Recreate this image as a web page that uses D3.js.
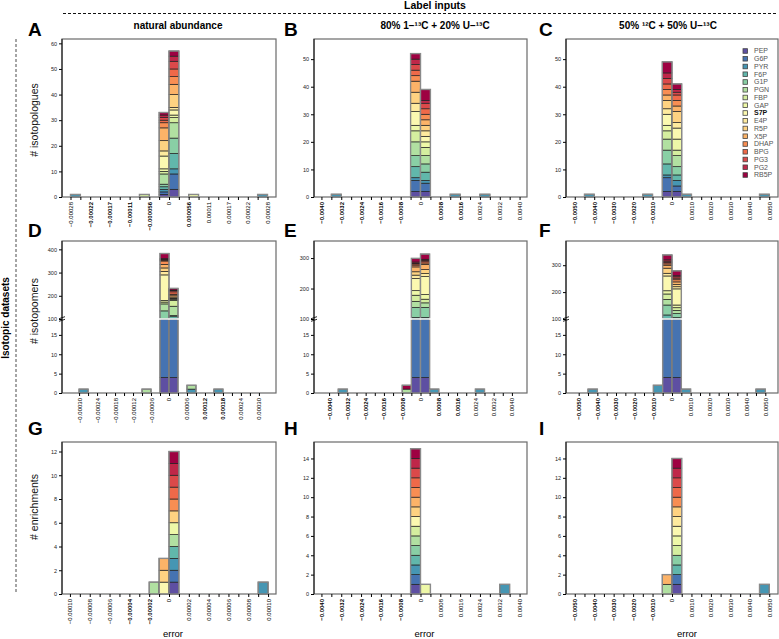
<!DOCTYPE html>
<html><head><meta charset="utf-8">
<script src="https://cdn.jsdelivr.net/npm/d3@7"></script>
<style>body{margin:0;background:#fff} svg text{font-family:"Liberation Sans",Arial,sans-serif}</style>
</head><body><svg id="c" width="779" height="639"></svg>
<script>
// ---------------- DATA ----------------
const metabolites = ["PEP","G6P","PYR","F6P","G1P","PGN","FBP","GAP","S7P","E4P","R5P","X5P","DHAP","BPG","PG3","PG2","RB5P"];
const columnTitles = ["natural abundance","80% 1−¹³C + 20% U−¹³C","50% ¹²C + 50% U−¹³C"];
const rowTitles = ["# isotopologues","# isotopomers","# enrichments"];
const panelLetters = ["A","B","C","D","E","F","G","H","I"];

const ticksA = ["−0.00028","−0.00022","−0.00017","−0.00011","−0.000056","0","0.000056","0.00011","0.00017","0.00022","0.00028"];
const ticks8 = ["−0.0040","−0.0032","−0.0024","−0.0016","−0.0008","0","0.0008","0.0016","0.0024","0.0032","0.0040"];
const ticks10 = ["−0.0050","−0.0040","−0.0030","−0.0020","−0.0010","0","0.0010","0.0020","0.0030","0.0040","0.0050"];
const ticksD = ["−0.00030","−0.00024","−0.00018","−0.00012","−0.00006","0","0.00006","0.00012","0.00018","0.00024","0.00030"];
const ticksG = ["−0.00010","−0.00008","−0.00006","−0.00004","−0.00002","0","0.00002","0.00004","0.00006","0.00008","0.00010"];

const binWidth   = {A:2.78e-5, B:4e-4, C:5e-4, D:3e-5, E:4e-4, F:5e-4, G:1e-5, H:4e-4, I:5e-4};
const xHalfRange = {A:3.02e-4, B:4.3e-3, C:5.45e-3, D:3.57e-4, E:4.66e-3, F:5.68e-3, G:1.08e-4, H:4.3e-3, I:5.45e-3};
const yMax = {A:61.7, B:57.3, C:57.3, G:12.8, H:15.7, I:15.7};
const yLowMax = 19.1;
const yUpperMax = {D:436, E:356, F:390};
const yTicks = {A:[0,10,20,30,40,50,60], B:[0,10,20,30,40,50], C:[0,10,20,30,40,50],
  G:[0,2,4,6,8,10,12], H:[0,2,4,6,8,10,12,14], I:[0,2,4,6,8,10,12,14]};
const yTicksLow = [0,5,10,15];
const yTicksUp = {D:[100,200,300,400], E:[100,200,300], F:[100,200,300]};

const barsA = [
 {bin:-10, n:{PYR:1}},
 {bin:-3, n:{FBP:1}},
 {bin:-1, n:{PEP:1,G6P:1,PYR:1,F6P:1,G1P:1,PGN:4,FBP:1,GAP:1,S7P:5,E4P:2,R5P:4,X5P:5,DHAP:2,BPG:1,PG3:1,PG2:1,RB5P:1}},
 {bin:0, n:{PEP:3,G6P:6,PYR:2,F6P:6,G1P:6,PGN:6,FBP:2,GAP:1,S7P:2,E4P:1,R5P:5,X5P:4,DHAP:3,BPG:3,PG3:3,PG2:2,RB5P:2}},
 {bin:2, n:{GAP:1}},
 {bin:9, n:{PYR:1}}
];
const barsB = [
 {bin:-9, n:{PYR:1}},
 {bin:-1, n:{PEP:2,G6P:4,PYR:1,F6P:4,G1P:4,PGN:5,FBP:4,GAP:2,S7P:5,E4P:3,R5P:4,X5P:4,DHAP:2,BPG:2,PG3:2,PG2:2,RB5P:2}},
 {bin:0, n:{PEP:2,G6P:3,PYR:1,F6P:3,G1P:3,PGN:3,FBP:3,GAP:2,S7P:2,E4P:2,R5P:2,X5P:2,DHAP:2,BPG:2,PG3:2,PG2:1,RB5P:4}},
 {bin:3, n:{PYR:1}},
 {bin:6, n:{PYR:1}}
];
const barsC = [
 {bin:-9, n:{PYR:1}},
 {bin:-3, n:{PYR:1}},
 {bin:-1, n:{PEP:2,G6P:5,PYR:1,F6P:4,G1P:5,PGN:4,FBP:3,GAP:2,S7P:4,E4P:2,R5P:3,X5P:2,DHAP:2,BPG:2,PG3:2,PG2:2,RB5P:4}},
 {bin:0, n:{PEP:2,G6P:2,PYR:2,F6P:2,G1P:3,PGN:4,FBP:2,GAP:4,S7P:4,E4P:2,R5P:4,X5P:2,DHAP:2,BPG:2,PG3:1,PG2:1,RB5P:2}},
 {bin:1, n:{PYR:1}},
 {bin:9, n:{PYR:1}}
];
const barsD = [
 {bin:-10, n:{PYR:1}},
 {bin:-3, n:{PGN:1}},
 {bin:-1, n:{PEP:4,G6P:96,G1P:35,PGN:30,FBP:8,GAP:7,S7P:110,E4P:15,R5P:15,X5P:15,DHAP:15,BPG:4,PG3:3,PG2:3,RB5P:22}},
 {bin:0, n:{PEP:4,G6P:96,F6P:10,G1P:5,PGN:40,FBP:25,GAP:4,S7P:3,E4P:3,R5P:5,X5P:8,DHAP:4,BPG:10,PG3:5,PG2:3,RB5P:7}},
 {bin:2, n:{PYR:1,PGN:1}},
 {bin:5, n:{PYR:1}}
];
const barsE = [
 {bin:-9, n:{PYR:1}},
 {bin:-2, n:{PGN:1,RB5P:1}},
 {bin:-1, n:{PEP:4,G6P:96,F6P:5,G1P:33,PGN:20,FBP:20,GAP:15,S7P:40,E4P:11,R5P:11,X5P:16,DHAP:6,BPG:4,PG3:2,PG2:4,RB5P:12}},
 {bin:0, n:{PEP:4,G6P:96,F6P:5,G1P:33,PGN:15,FBP:12,GAP:15,S7P:59,E4P:10,R5P:13,X5P:17,DHAP:5,BPG:6,PG3:3,PG2:3,RB5P:17}},
 {bin:1, n:{PYR:1}},
 {bin:6, n:{PYR:1}}
];
const barsF = [
 {bin:-9, n:{PYR:1}},
 {bin:-2, n:{PYR:2}},
 {bin:-1, n:{PEP:4,G6P:96,F6P:15,G1P:37,PGN:21,FBP:20,GAP:12,S7P:55,E4P:10,R5P:19,X5P:11,DHAP:5,BPG:5,PG3:5,PG2:5,RB5P:18}},
 {bin:0, n:{PEP:4,G6P:96,F6P:5,G1P:15,PGN:12,FBP:10,GAP:10,S7P:60,E4P:8,R5P:8,X5P:10,DHAP:8,BPG:6,PG3:5,PG2:4,RB5P:18}},
 {bin:1, n:{PYR:1}},
 {bin:9, n:{PYR:1}}
];
const barsG = [
 {bin:-2, n:{PGN:1}},
 {bin:-1, n:{S7P:1,R5P:1,X5P:1}},
 {bin:0, n:{PEP:1,G6P:1,PYR:1,F6P:1,PGN:1,GAP:1,R5P:1,DHAP:1,BPG:1,PG3:1,PG2:1,RB5P:1}},
 {bin:9, n:{PYR:1}}
];
const barsH = [
 {bin:-1, n:{PEP:1,G6P:1,PYR:1,F6P:1,G1P:1,PGN:1,FBP:1,S7P:1,R5P:1,X5P:1,DHAP:1,BPG:1,PG3:1,PG2:1,RB5P:1}},
 {bin:0, n:{GAP:1}},
 {bin:8, n:{PYR:1}}
];
const barsI = [
 {bin:-1, n:{PGN:1,X5P:1}},
 {bin:0, n:{PEP:1,G6P:1,F6P:1,G1P:1,FBP:1,GAP:1,S7P:1,E4P:1,R5P:1,DHAP:1,BPG:1,PG3:1,PG2:1,RB5P:1}},
 {bin:9, n:{PYR:1}}
];

const panelTicks = {A:ticksA,B:ticks8,C:ticks10,D:ticksD,E:ticks8,F:ticks10,G:ticksG,H:ticks8,I:ticks10};
const panelBars  = {A:barsA,B:barsB,C:barsC,D:barsD,E:barsE,F:barsF,G:barsG,H:barsH,I:barsI};

// ---------------- LAYOUT / STYLE ----------------
const colX = [[62,276],[314,527],[566,778]];
const rowY = [{top:39,bottom:197},{top:241,bottom:393,brk:319},{top:442,bottom:594}];
const boldTicks = {A:[1,2,3,4,6],B:[0,1,2,3,4,6,7],C:[0,1,2,3,4],D:[7,8],E:[0,1,2,3,4,6,7],F:[0,1,2,3,4],G:[3,4],H:[0,1,2,3,4],I:[0,1,2,3,4]};
const letterX = [28,284,539];
const letterY = [36,237,435];
const titleX = [178,435,668];
const yTitleY = [120,311,507];
const errorX = [173,424.5,687];

const svg = d3.select("#c");
const color = d3.scaleOrdinal().domain(metabolites)
  .range(metabolites.map((m,i)=>d3.interpolateSpectral(1 - i/(metabolites.length-1))));

// header
svg.append("text").attr("x",435).attr("y",9).attr("text-anchor","middle")
  .attr("font-size",10.5).attr("font-weight","bold").text("Label inputs");
svg.append("line").attr("x1",63).attr("x2",778).attr("y1",13.5).attr("y2",13.5)
  .attr("stroke","#111").attr("stroke-width",1).attr("stroke-dasharray","3,2");
svg.append("line").attr("x1",16).attr("x2",16).attr("y1",39).attr("y2",594)
  .attr("stroke","#888").attr("stroke-width",1.5).attr("stroke-dasharray","3,2");
svg.append("text").attr("transform","translate(9,318) rotate(-90)").attr("text-anchor","middle")
  .attr("font-size",10).attr("font-weight","bold").text("Isotopic datasets");

columnTitles.forEach((t,i)=>{
  svg.append("text").attr("x",titleX[i]).attr("y",28.5).attr("text-anchor","middle")
    .attr("font-size",10).attr("font-weight","bold").text(t);
});
rowTitles.forEach((t,i)=>{
  svg.append("text").attr("transform",`translate(38,${yTitleY[i]}) rotate(-90)`).attr("text-anchor","middle")
    .attr("font-size",10.5).attr("fill","#111").text(t);
});
errorX.forEach(x=>{
  svg.append("text").attr("x",x).attr("y",637).attr("text-anchor","middle").attr("font-size",9.5).text("error");
});

panelLetters.forEach((id,idx)=>{
  const r = Math.floor(idx/3), c = idx%3;
  const [x0,x1] = colX[c]; const R = rowY[r];
  const g = svg.append("g");
  g.append("text").attr("x",letterX[c]).attr("y",letterY[r]).attr("font-size",19).attr("font-weight","bold").text(id);

  const x = d3.scaleLinear().domain([-xHalfRange[id], xHalfRange[id]]).range([x0,x1]);
  let yv, yAxes;
  if (r === 1) {
    const yLow = d3.scaleLinear().domain([0,yLowMax]).range([R.bottom,R.brk]);
    const yUp = d3.scaleLinear().domain([100,yUpperMax[id]]).range([R.brk,R.top]);
    yv = v => v <= yLowMax ? yLow(v) : (v >= 100 ? yUp(v) : R.brk);
    yAxes = [[yLow,yTicksLow],[yUp,yTicksUp[id]]];
  } else {
    const y = d3.scaleLinear().domain([0,yMax[id]]).range([R.bottom,R.top]);
    yv = y; yAxes = [[y,yTicks[id]]];
  }

  // frame
  g.append("rect").attr("x",x0).attr("y",R.top).attr("width",x1-x0).attr("height",R.bottom-R.top)
    .attr("fill","none").attr("stroke","#6a6a6a").attr("stroke-width",1.2);

  // bars
  const bw = binWidth[id];
  const barG = g.append("g");
  panelBars[id].forEach(b=>{
    const bx0 = x(b.bin*bw), bx1 = x((b.bin+1)*bw);
    let cum = 0;
    const segs = [];
    metabolites.forEach(m=>{ const n = b.n[m]; if(n){ segs.push({m, y0:cum, y1:cum+n}); cum += n; } });
    barG.selectAll(null).data(segs).join("rect")
      .attr("x",bx0).attr("width",bx1-bx0)
      .attr("y",d=>yv(d.y1)).attr("height",d=>Math.max(0,yv(d.y0)-yv(d.y1)))
      .attr("fill",d=>color(d.m)).attr("stroke","#222").attr("stroke-width",0.7);
    barG.append("rect").attr("x",bx0).attr("width",bx1-bx0)
      .attr("y",yv(cum)).attr("height",yv(0)-yv(cum))
      .attr("fill","none").attr("stroke","#8a8a8a").attr("stroke-width",1.4);
  });
  if (r === 1) {
    g.append("line").attr("x1",x0+1).attr("x2",x1-1).attr("y1",R.brk).attr("y2",R.brk)
      .attr("stroke","#fff").attr("stroke-width",1.6);
  }

  // y axes
  yAxes.forEach(([sc,tv])=>{
    const a = g.append("g").attr("transform",`translate(${x0},0)`)
      .call(d3.axisLeft(sc).tickValues(tv).tickSize(3).tickPadding(2).tickFormat(d3.format("d")));
    a.select(".domain").remove();
    a.attr("font-family",null).attr("font-size",null);
    a.selectAll("text").attr("font-size",5.5).attr("fill","#222");
  });
  g.append("line").attr("x1",x0).attr("x2",x0).attr("y1",R.top).attr("y2",R.bottom).attr("stroke","#111").attr("stroke-width",1);
  if (r === 1) {
    [-1.3,1.3].forEach(o=>{
      g.append("line").attr("x1",x0-3).attr("x2",x0+3).attr("y1",R.brk+o+1).attr("y2",R.brk+o-1)
        .attr("stroke","#111").attr("stroke-width",0.9);
    });
  }

  // x axis
  const labels = panelTicks[id];
  const edges = d3.range(-10,11).map(k=>k*bw);
  const xa = g.append("g").attr("transform",`translate(0,${R.bottom})`)
    .call(d3.axisBottom(x).tickValues(edges).tickSize(3)
      .tickFormat((d,i)=> i%2===0 ? labels[i/2] : ""));
  xa.select(".domain").remove();
  xa.attr("font-family",null).attr("font-size",null);
  const bset = new Set(boldTicks[id].map(k=>k*2));
  xa.selectAll("text")
    .attr("transform","rotate(-90)").attr("x",-5).attr("y",0).attr("dy","0.33em")
    .attr("text-anchor","end").attr("font-size",6).attr("fill","#000")
    .attr("font-weight",(d,i)=> bset.has(i) ? "bold" : "normal");
});

// legend (in panel C)
const lg = svg.append("g");
metabolites.forEach((m,i)=>{
  const cy = 51 + i*7.75;
  lg.append("rect").attr("x",743).attr("y",cy-2.3).attr("width",4.6).attr("height",4.6)
    .attr("fill",color(m)).attr("stroke","#444").attr("stroke-width",0.8);
  lg.append("text").attr("x",754).attr("y",cy).attr("dy","0.35em").attr("font-size",7)
    .attr("fill", m==="S7P" ? "#111" : "#555").attr("font-weight", m==="S7P" ? "bold" : "normal").text(m);
});
</script></body></html>
